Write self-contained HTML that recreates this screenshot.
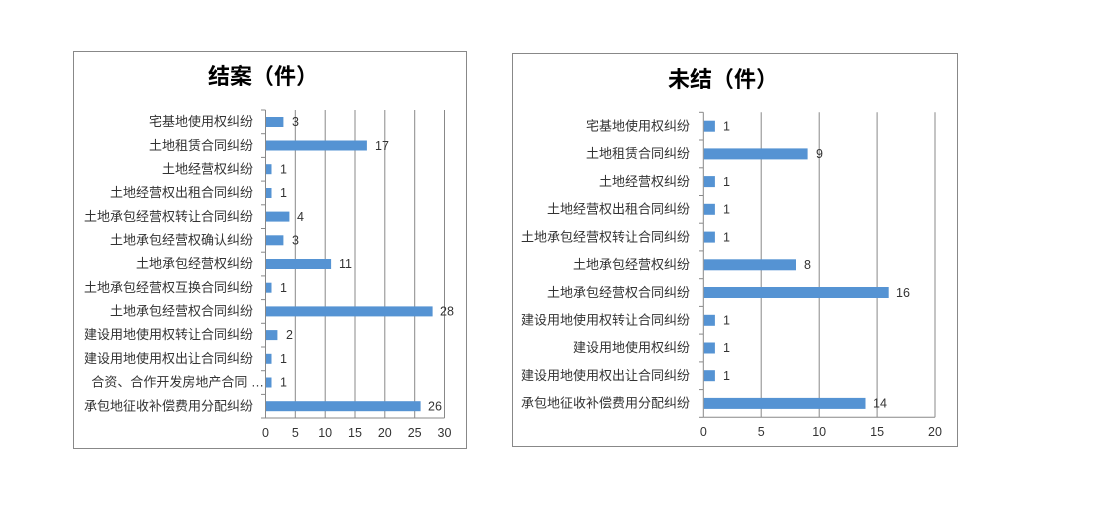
<!DOCTYPE html>
<html><head><meta charset="utf-8"><style>
html,body{margin:0;padding:0;background:#fff;}
svg{display:block;}
text{font-family:"Liberation Sans","Noto Sans CJK SC",sans-serif;fill:#333;}
.c{font-size:13px;text-anchor:end;}
.v{font-size:12.5px;}
.t{font-size:12.5px;text-anchor:middle;}
.h{font-size:22px;font-weight:bold;text-anchor:middle;fill:#000;}
.g{stroke:#888;stroke-width:1;}
.b{fill:#5593d3;}
</style></head><body>
<svg width="1097" height="513" xmlns="http://www.w3.org/2000/svg">
<rect x="73.5" y="51.5" width="393" height="397" fill="#fff" stroke="#888"/>
<text class="h" x="263" y="84">结案（件）</text>
<g class="g">
<line x1="265.5" y1="110" x2="265.5" y2="418"/>
<line x1="295.3" y1="110" x2="295.3" y2="418"/>
<line x1="325.2" y1="110" x2="325.2" y2="418"/>
<line x1="355" y1="110" x2="355" y2="418"/>
<line x1="384.8" y1="110" x2="384.8" y2="418"/>
<line x1="414.7" y1="110" x2="414.7" y2="418"/>
<line x1="444.5" y1="110" x2="444.5" y2="418"/>
<line x1="265.5" y1="418" x2="444.5" y2="418"/>
<line x1="261" y1="110" x2="265.5" y2="110"/><line x1="261" y1="133.7" x2="265.5" y2="133.7"/><line x1="261" y1="157.4" x2="265.5" y2="157.4"/><line x1="261" y1="181.1" x2="265.5" y2="181.1"/><line x1="261" y1="204.8" x2="265.5" y2="204.8"/><line x1="261" y1="228.5" x2="265.5" y2="228.5"/><line x1="261" y1="252.2" x2="265.5" y2="252.2"/><line x1="261" y1="275.9" x2="265.5" y2="275.9"/><line x1="261" y1="299.6" x2="265.5" y2="299.6"/><line x1="261" y1="323.3" x2="265.5" y2="323.3"/><line x1="261" y1="347" x2="265.5" y2="347"/><line x1="261" y1="370.7" x2="265.5" y2="370.7"/><line x1="261" y1="394.4" x2="265.5" y2="394.4"/><line x1="261" y1="418" x2="265.5" y2="418"/>
</g>
<g class="b">
<rect x="266" y="117" width="17.4" height="10"/>
<rect x="266" y="140.5" width="100.9" height="10"/>
<rect x="266" y="164.2" width="5.5" height="10"/>
<rect x="266" y="188" width="5.5" height="10"/>
<rect x="266" y="211.6" width="23.4" height="10"/>
<rect x="266" y="235.3" width="17.4" height="10"/>
<rect x="266" y="259" width="65.1" height="10"/>
<rect x="266" y="282.7" width="5.5" height="10"/>
<rect x="266" y="306.4" width="166.6" height="10"/>
<rect x="266" y="330.1" width="11.4" height="10"/>
<rect x="266" y="353.8" width="5.5" height="10"/>
<rect x="266" y="377.5" width="5.5" height="10"/>
<rect x="266" y="401.2" width="154.6" height="10"/>
</g>
<g class="c">
<text x="253" y="126">宅基地使用权纠纷</text>
<text x="253" y="150">土地租赁合同纠纷</text>
<text x="253" y="173.5">土地经营权纠纷</text>
<text x="253" y="197">土地经营权出租合同纠纷</text>
<text x="253" y="221">土地承包经营权转让合同纠纷</text>
<text x="253" y="244.5">土地承包经营权确认纠纷</text>
<text x="253" y="268">土地承包经营权纠纷</text>
<text x="253" y="292">土地承包经营权互换合同纠纷</text>
<text x="253" y="315.5">土地承包经营权合同纠纷</text>
<text x="253" y="339">建设用地使用权转让合同纠纷</text>
<text x="253" y="363">建设用地使用权出让合同纠纷</text>
<text x="264" y="386.5">合资、合作开发房地产合同 …</text>
<text x="253" y="410.5">承包地征收补偿费用分配纠纷</text>
</g>
<g class="v">
<text x="292" y="126">3</text>
<text x="375" y="150">17</text>
<text x="280" y="173.5">1</text>
<text x="280" y="197">1</text>
<text x="297" y="221">4</text>
<text x="292" y="244.5">3</text>
<text x="339" y="268">11</text>
<text x="280" y="292">1</text>
<text x="440" y="315.5">28</text>
<text x="286" y="339">2</text>
<text x="280" y="363">1</text>
<text x="280" y="386.5">1</text>
<text x="428" y="410.5">26</text>
</g>
<g class="t">
<text x="265.5" y="437">0</text><text x="295.3" y="437">5</text><text x="325.2" y="437">10</text><text x="355" y="437">15</text><text x="384.8" y="437">20</text><text x="414.7" y="437">25</text><text x="444.5" y="437">30</text>
</g>

<rect x="512.5" y="53.5" width="445" height="393" fill="#fff" stroke="#888"/>
<text class="h" x="723" y="87">未结（件）</text>
<g class="g">
<line x1="703.3" y1="112.3" x2="703.3" y2="417.3"/>
<line x1="761.2" y1="112.3" x2="761.2" y2="417.3"/>
<line x1="819.2" y1="112.3" x2="819.2" y2="417.3"/>
<line x1="877.1" y1="112.3" x2="877.1" y2="417.3"/>
<line x1="935" y1="112.3" x2="935" y2="417.3"/>
<line x1="703.3" y1="417.3" x2="935" y2="417.3"/>
<line x1="699" y1="112.3" x2="703.3" y2="112.3"/><line x1="699" y1="140" x2="703.3" y2="140"/><line x1="699" y1="167.8" x2="703.3" y2="167.8"/><line x1="699" y1="195.5" x2="703.3" y2="195.5"/><line x1="699" y1="223.2" x2="703.3" y2="223.2"/><line x1="699" y1="250.9" x2="703.3" y2="250.9"/><line x1="699" y1="278.7" x2="703.3" y2="278.7"/><line x1="699" y1="306.4" x2="703.3" y2="306.4"/><line x1="699" y1="334.1" x2="703.3" y2="334.1"/><line x1="699" y1="361.9" x2="703.3" y2="361.9"/><line x1="699" y1="389.6" x2="703.3" y2="389.6"/><line x1="699" y1="417.3" x2="703.3" y2="417.3"/>
</g>
<g class="b">
<rect x="703.8" y="120.7" width="11.1" height="11"/>
<rect x="703.8" y="148.4" width="103.8" height="11"/>
<rect x="703.8" y="176.1" width="11.1" height="11"/>
<rect x="703.8" y="203.8" width="11.1" height="11"/>
<rect x="703.8" y="231.6" width="11.1" height="11"/>
<rect x="703.8" y="259.3" width="92.2" height="11"/>
<rect x="703.8" y="287" width="184.9" height="11"/>
<rect x="703.8" y="314.8" width="11.1" height="11"/>
<rect x="703.8" y="342.5" width="11.1" height="11"/>
<rect x="703.8" y="370.2" width="11.1" height="11"/>
<rect x="703.8" y="397.9" width="161.7" height="11"/>
</g>
<g class="c">
<text x="690" y="130.5">宅基地使用权纠纷</text>
<text x="690" y="158">土地租赁合同纠纷</text>
<text x="690" y="186">土地经营权纠纷</text>
<text x="690" y="213.5">土地经营权出租合同纠纷</text>
<text x="690" y="241.5">土地承包经营权转让合同纠纷</text>
<text x="690" y="269">土地承包经营权纠纷</text>
<text x="690" y="297">土地承包经营权合同纠纷</text>
<text x="690" y="324.5">建设用地使用权转让合同纠纷</text>
<text x="690" y="352">建设用地使用权纠纷</text>
<text x="690" y="380">建设用地使用权出让合同纠纷</text>
<text x="690" y="407.5">承包地征收补偿费用分配纠纷</text>
</g>
<g class="v">
<text x="723" y="130.5">1</text>
<text x="816" y="158">9</text>
<text x="723" y="186">1</text>
<text x="723" y="213.5">1</text>
<text x="723" y="241.5">1</text>
<text x="804" y="269">8</text>
<text x="896" y="297">16</text>
<text x="723" y="324.5">1</text>
<text x="723" y="352">1</text>
<text x="723" y="380">1</text>
<text x="873" y="407.5">14</text>
</g>
<g class="t">
<text x="703.3" y="436">0</text><text x="761.2" y="436">5</text><text x="819.2" y="436">10</text><text x="877.1" y="436">15</text><text x="935" y="436">20</text>
</g>
</svg>
</body></html>
